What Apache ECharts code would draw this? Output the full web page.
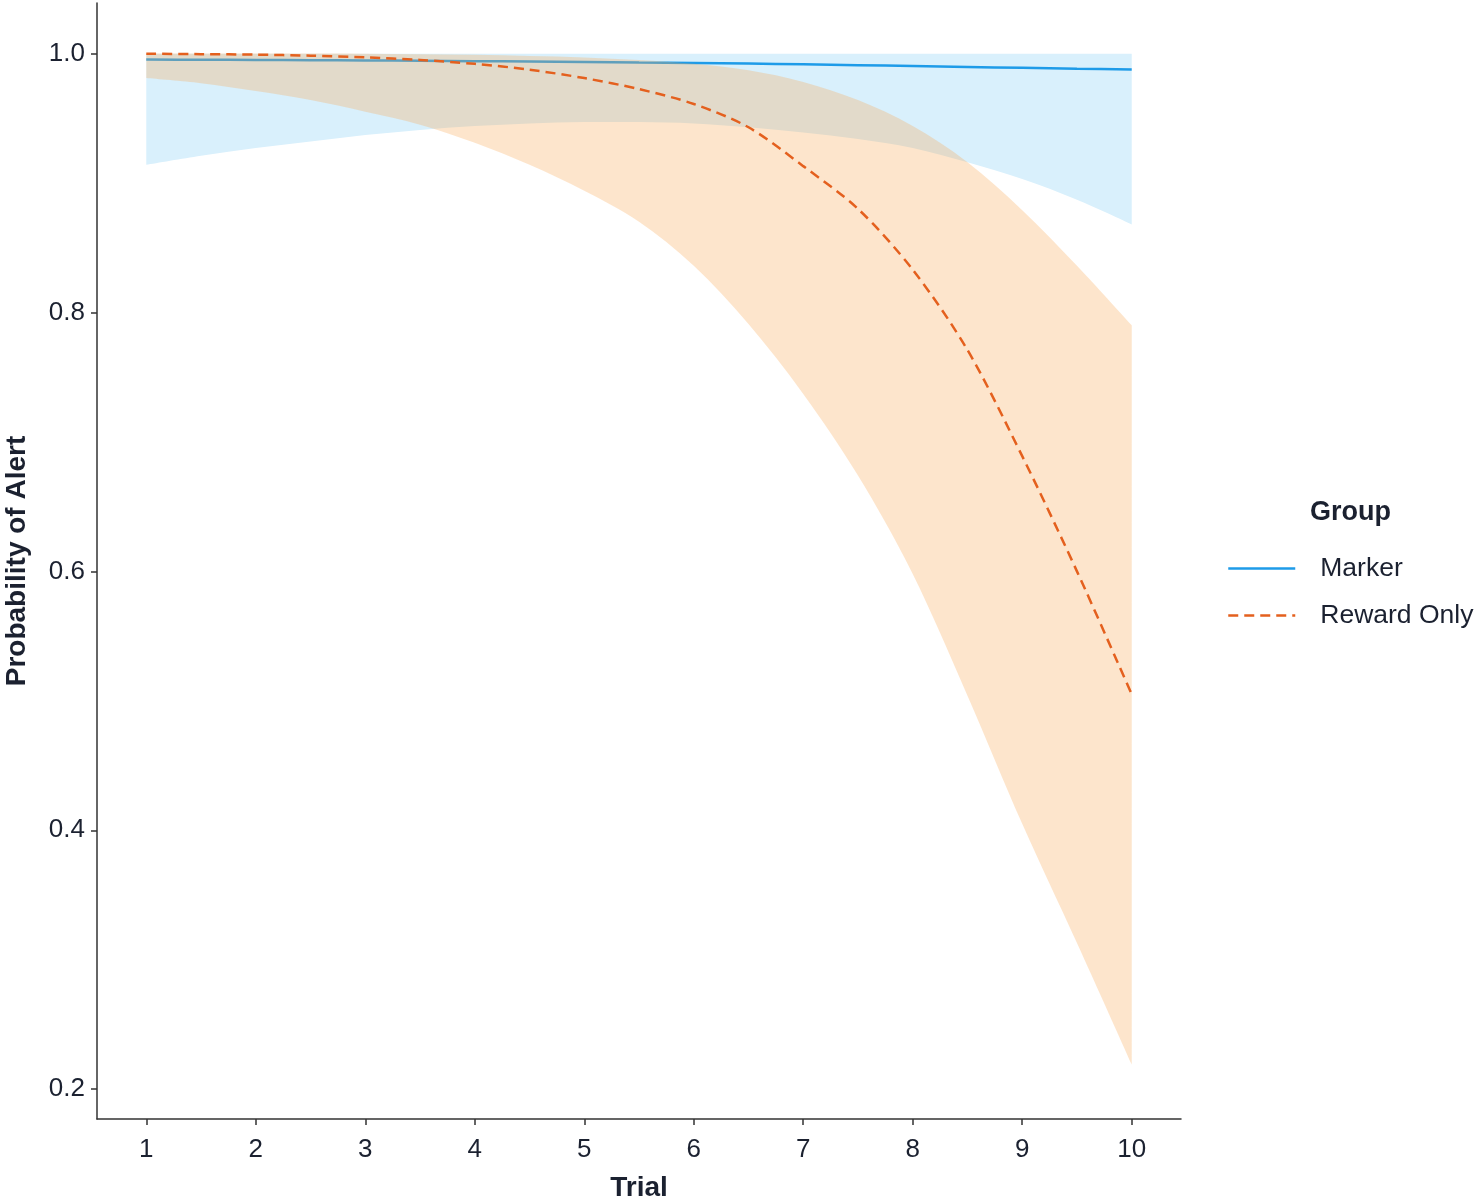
<!DOCTYPE html>
<html>
<head>
<meta charset="utf-8">
<title>Probability of Alert by Trial</title>
<script src="https://cdn.jsdelivr.net/npm/echarts@6/dist/echarts.min.js"></script>
<style>
  html, body { margin: 0; padding: 0; background: #fff; }
  #chart { width: 1477px; height: 1202px; }
</style>
</head>
<body>
<div id="chart"></div>
<script>
// values, every half trial
const trials = [1, 1.5, 2, 2.5, 3, 3.5, 4, 4.5, 5, 5.5, 6, 6.5, 7, 7.5, 8, 8.5, 9, 9.5, 10];

const markerFit = [0.9953, 0.9952, 0.9950, 0.9948, 0.9946, 0.9944, 0.9941, 0.9938, 0.9935, 0.9931,
  0.9927, 0.9922, 0.9916, 0.9910, 0.9903, 0.9896, 0.9889, 0.9882, 0.9876];
const markerLower = [0.914, 0.921, 0.927, 0.932, 0.937, 0.941, 0.944, 0.946, 0.947, 0.947,
  0.946, 0.943, 0.939, 0.934, 0.927, 0.916, 0.903, 0.887, 0.868];
const markerUpper = [0.9998, 0.9998, 0.9998, 0.9998, 0.9998, 0.9998, 0.9998, 0.9998, 0.9998, 0.9998,
  0.9998, 0.9998, 0.9998, 0.9998, 0.9998, 0.9998, 0.9998, 0.9998, 0.9998];

const rewardFit = [0.9998, 0.9995, 0.9991, 0.9983, 0.9970, 0.9950, 0.9920, 0.9875, 0.9810, 0.9725,
  0.9610, 0.9430, 0.9130, 0.8800, 0.8330, 0.7710, 0.6890, 0.6000, 0.5050];
const rewardLower = [0.981, 0.977, 0.971, 0.964, 0.955, 0.945, 0.931, 0.914, 0.894, 0.870,
  0.836, 0.791, 0.737, 0.674, 0.598, 0.504, 0.405, 0.313, 0.219];
const rewardUpper = [1.0, 1.0, 1.0, 0.9999, 0.9998, 0.9995, 0.999, 0.998, 0.997, 0.995,
  0.992, 0.987, 0.978, 0.964, 0.944, 0.916, 0.879, 0.836, 0.790];

const xTicks = [1, 2, 3, 4, 5, 6, 7, 8, 9, 10];
const yTicks = [0.2, 0.4, 0.6, 0.8, 1.0];

const FONT = '"Liberation Sans", Arial, sans-serif';
const TEXT = '#1b2130';

// catmull-rom through pixel points -> svg path commands
function curvePath(pts, first) {
  let d = (first ? 'M' : 'L') + pts[0];
  for (let i = 0; i < pts.length - 1; i++) {
    const p0 = pts[i - 1] || pts[i], p1 = pts[i], p2 = pts[i + 1], p3 = pts[i + 2] || p2;
    const c1 = [p1[0] + (p2[0] - p0[0]) / 6, p1[1] + (p2[1] - p0[1]) / 6];
    const c2 = [p2[0] - (p3[0] - p1[0]) / 6, p2[1] - (p3[1] - p1[1]) / 6];
    d += 'C' + c1 + ' ' + c2 + ' ' + p2;
  }
  return d;
}

// ribbon between two curves, positioned with the chart's own axes
function band(upper, lower, fill) {
  return function (params, api) {
    const top = trials.map((t, i) => api.coord([t, upper[i]]));
    const bot = trials.map((t, i) => api.coord([t, lower[i]])).reverse();
    return {
      type: 'path',
      shape: { pathData: curvePath(top, true) + curvePath(bot, false) + 'Z' },
      style: { fill: fill }
    };
  };
}

const pairs = ys => trials.map((t, i) => [t, ys[i]]);

const chart = echarts.init(document.getElementById('chart'));

chart.setOption({
  backgroundColor: '#fff',
  animation: false,
  textStyle: { fontFamily: FONT },
  title: {
    text: 'Group',
    left: 1305,
    top: 494,
    textStyle: { fontFamily: FONT, fontSize: 27, fontWeight: 'bold', color: TEXT }
  },
  legend: {
    data: ['Marker', 'Reward Only'],
    orient: 'vertical',
    left: 1222,
    top: 550,
    itemWidth: 67,
    itemHeight: 20,
    itemGap: 20,
    selectedMode: false,
    itemStyle: { opacity: 0 },
    lineStyle: { width: 2.5 },
    textStyle: { fontFamily: FONT, fontSize: 26.5, color: TEXT, padding: [0, 0, 0, 20] }
  },
  grid: { left: 97, right: 296, top: 3, bottom: 83, containLabel: false, outerBoundsMode: 'none' },
  xAxis: {
    type: 'value',
    min: 0.55,
    max: 10.45,
    splitNumber: 10,
    name: 'Trial',
    nameLocation: 'middle',
    nameGap: 55,
    nameTextStyle: { fontFamily: FONT, fontSize: 28, fontWeight: 'bold', color: TEXT },
    axisLine: { show: true, lineStyle: { color: '#333', width: 1.5 } },
    axisTick: { show: true, length: 6, lineStyle: { color: '#333', width: 1.5 }, customValues: xTicks },
    axisLabel: { margin: 18, fontSize: 26, color: TEXT, fontFamily: FONT, customValues: xTicks },
    splitLine: { show: false }
  },
  yAxis: {
    type: 'value',
    min: 0.177,
    max: 1.039,
    name: 'Probability of Alert',
    nameLocation: 'middle',
    nameGap: 66,
    nameTextStyle: { fontFamily: FONT, fontSize: 28, fontWeight: 'bold', color: TEXT },
    axisLine: { show: true, lineStyle: { color: '#333', width: 1.5 } },
    axisTick: { show: true, length: 6, lineStyle: { color: '#333', width: 1.5 }, customValues: yTicks },
    axisLabel: {
      margin: 12, fontSize: 26, color: TEXT, fontFamily: FONT, customValues: yTicks,
      formatter: v => v.toFixed(1)
    },
    splitLine: { show: false }
  },
  series: [
    {
      name: 'Marker band',
      type: 'custom',
      z: 1,
      silent: true,
      renderItem: band(markerUpper, markerLower, '#d9f0fc'),
      data: [[trials[0], markerUpper[0]]]
    },
    {
      name: 'Marker',
      type: 'line',
      z: 2,
      data: pairs(markerFit),
      smooth: 0.3,
      symbol: 'none',
      color: '#1e9be8',
      lineStyle: { color: '#1e9be8', width: 2.5 }
    },
    {
      name: 'Reward Only band',
      type: 'custom',
      z: 3,
      silent: true,
      renderItem: band(rewardUpper, rewardLower, 'rgba(248,168,85,0.3)'),
      data: [[trials[0], rewardUpper[0]]]
    },
    {
      name: 'Reward Only',
      type: 'line',
      z: 4,
      data: pairs(rewardFit),
      smooth: 0.3,
      symbol: 'none',
      color: '#e4601e',
      lineStyle: { color: '#e4601e', width: 2.5, type: [10, 6] }
    }
  ]
});

window.addEventListener('resize', function () {
  chart.resize();
});
</script>
</body>
</html>
